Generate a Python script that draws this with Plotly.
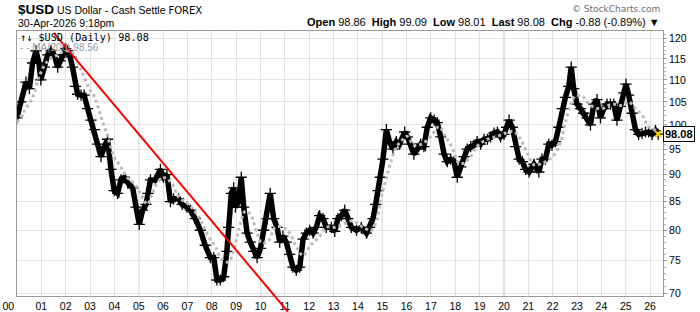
import math
import plotly.graph_objects as go

# ---------------- data ----------------
price_years = [
    2000.00, 2000.03, 2000.16, 2000.37, 2000.51, 2000.64, 2000.78, 2000.90, 2000.98,
    2001.12, 2001.26, 2001.39, 2001.53, 2001.67, 2001.78, 2001.87, 2002.00, 2002.08,
    2002.18, 2002.28, 2002.40, 2002.49, 2002.63, 2002.76, 2002.90, 2003.04, 2003.18,
    2003.31, 2003.45, 2003.59, 2003.72, 2003.86, 2003.99, 2004.13, 2004.27, 2004.41,
    2004.54, 2004.75, 2004.89, 2005.02, 2005.16, 2005.30, 2005.38, 2005.48, 2005.68,
    2005.89, 2006.02, 2006.16, 2006.30, 2006.43, 2006.64, 2006.78, 2006.98, 2007.12,
    2007.32, 2007.53, 2007.73, 2007.94, 2008.08, 2008.21, 2008.35, 2008.49, 2008.62,
    2008.69, 2008.80, 2008.90, 2008.97, 2009.10, 2009.21, 2009.31, 2009.45, 2009.58,
    2009.72, 2009.86, 2010.00, 2010.13, 2010.27, 2010.40, 2010.54, 2010.68, 2010.79,
    2010.92, 2011.06, 2011.20, 2011.33, 2011.47, 2011.61, 2011.75, 2011.88, 2012.02,
    2012.16, 2012.29, 2012.43, 2012.57, 2012.70, 2012.91, 2013.05, 2013.18, 2013.32,
    2013.46, 2013.59, 2013.73, 2013.94, 2014.14, 2014.35, 2014.48, 2014.62, 2014.73,
    2014.83, 2014.92, 2015.03, 2015.17, 2015.30, 2015.44, 2015.58, 2015.71, 2015.92,
    2016.03, 2016.17, 2016.30, 2016.44, 2016.58, 2016.71, 2016.85, 2016.99, 2017.13,
    2017.26, 2017.40, 2017.54, 2017.67, 2017.81, 2017.95, 2018.08, 2018.22, 2018.36,
    2018.49, 2018.63, 2018.77, 2018.90, 2019.04, 2019.18, 2019.32, 2019.45, 2019.59,
    2019.73, 2019.86, 2020.00, 2020.11, 2020.21, 2020.34, 2020.48, 2020.62, 2020.75,
    2020.89, 2021.03, 2021.23, 2021.43, 2021.56, 2021.70, 2021.84, 2021.97, 2022.11,
    2022.25, 2022.39, 2022.52, 2022.66, 2022.76, 2022.86, 2023.00, 2023.14, 2023.27,
    2023.41, 2023.55, 2023.69, 2023.82, 2023.96, 2024.10, 2024.23, 2024.37, 2024.51,
    2024.64, 2024.78, 2024.92, 2025.01, 2025.12, 2025.26, 2025.40, 2025.53, 2025.67,
    2025.81, 2025.94, 2026.08, 2026.22, 2026.33,
]
price_values = [
    101.5, 102, 105, 109.5, 108, 114, 117, 114, 110,
    113, 116, 117, 116, 113, 114.5, 116, 117.5, 117,
    115.5, 113, 108.5, 106.7, 106.5, 106.5, 103.5, 101, 99,
    96, 93.5, 95.5, 97, 91, 87, 86.5, 89, 89.5,
    88.5, 87.5, 84, 81, 83.5, 84.5, 86.5, 89, 89,
    91, 89.5, 90, 85, 85.5, 85.5, 84.5, 84, 83.5,
    82, 80, 77.5, 75.5, 75.5, 72, 72, 72.5, 76.5,
    80.5, 86.5, 87.5, 84, 85, 89.5, 84, 79.5, 78,
    76.5, 75.5, 77, 80, 82, 86.5, 82, 80.5, 78,
    79, 78, 76, 74, 73.5, 74, 78.5, 79.5, 80,
    79.5, 80.5, 82.5, 82, 80.5, 80.5, 79.8, 82, 82.5,
    83.5, 82, 80.5, 80, 80.5, 79.5, 80.5, 82, 84.5,
    87, 89.5, 93, 99, 96.5, 95, 96.5, 96, 98.5,
    97.5, 96, 94, 95, 96, 95.5, 99.5, 101.5, 101,
    100.5, 97.5, 94, 92.5, 93, 92.5, 89.5, 91.5, 93.5,
    95, 95.5, 95.8, 96.5, 96, 97, 97, 97.5, 98.3,
    98.5, 97.5, 98, 99.5, 101, 99.5, 95.5, 93, 92.5,
    91, 90.5, 92, 90.5, 93, 93, 96, 95.8, 96.5,
    99.5, 103.5, 106, 108.5, 113, 108, 104.5, 103.5, 102.5,
    101.5, 100, 104.5, 105.5, 101.5, 103.5, 104.5, 104.5, 104.5,
    101, 104, 107, 109, 106.5, 102.5, 99, 98, 98.2,
    98.5, 98.5, 98, 98.8, 98.08,
]

ma_years = [
    2000.00, 2000.30, 2000.64, 2000.92, 2001.26, 2001.67, 2002.01, 2002.29, 2002.63,
    2002.97, 2003.17, 2003.45, 2003.72, 2003.99, 2004.27, 2004.54, 2004.82, 2005.09,
    2005.36, 2005.54, 2005.82, 2006.09, 2006.37, 2006.64, 2007.05, 2007.46, 2007.87,
    2008.14, 2008.42, 2008.69, 2008.90, 2009.10, 2009.38, 2009.58, 2009.86, 2010.06,
    2010.34, 2010.61, 2010.92, 2011.20, 2011.47, 2011.75, 2012.02, 2012.43, 2012.70,
    2013.05, 2013.39, 2013.80, 2014.21, 2014.55, 2014.76, 2014.96, 2015.17, 2015.37,
    2015.58, 2015.85, 2016.03, 2016.30, 2016.65, 2016.99, 2017.33, 2017.60, 2017.88,
    2018.15, 2018.36, 2018.63, 2018.90, 2019.32, 2019.73, 2020.07, 2020.41, 2020.68,
    2020.96, 2021.23, 2021.56, 2021.84, 2022.11, 2022.32, 2022.52, 2022.73, 2022.93,
    2023.21, 2023.41, 2023.69, 2024.03, 2024.44, 2024.85, 2025.12, 2025.40, 2025.67,
    2025.94, 2026.22, 2026.35,
]
ma_values = [
    100.5, 103, 106, 111, 114.5, 116, 117, 116.5, 112.4,
    108, 106.3, 101.8, 97.6, 93.5, 91.4, 89.4, 88.3, 86.3,
    84.5, 86.3, 88.8, 89.4, 88.3, 85.8, 84.5, 82.3, 78.9,
    77.3, 75.2, 74.8, 76.7, 80, 83.3, 82.8, 79.5, 77.8,
    78.3, 80.5, 80.5, 79.5, 77.3, 75.8, 77.3, 79, 80.5,
    80.5, 81, 81.6, 80.5, 80, 81.6, 85.8, 89.4, 92.7,
    95.4, 97, 97.6, 95.8, 96.1, 97.6, 99.6, 97.6, 95.2,
    92.2, 92.2, 93.5, 95.6, 97, 97.6, 98.3, 98.6, 97,
    94.2, 91.9, 92.2, 92.9, 94.2, 96.4, 100.4, 104.3, 106.3,
    106.3, 105, 103.8, 103.5, 104.5, 104.2, 105, 103.5, 102.1,
    99.6, 98.9, 98.56,
]

trend_years = [2001.51, 2011.13]
trend_values = [121.5, 67.3]

year_ticks = list(range(2000, 2027))
year_labels = ["%02d" % (y % 100) for y in year_ticks]
year_labels[0] = "00" + "\u00a0" * 6
price_ticks = list(range(70, 121, 5))

last_price = 98.08
ma_last = 98.56

# ---------------- layout geometry ----------------
W, H = 700, 312
ML, MR, MT, MB = 17, 37, 31, 16
PW, PH = W - ML - MR, H - MT - MB
X0, X1 = 2000.0, 2026.53
Y0, Y1 = 69.6, 122.0
LY0, LY1 = math.log10(Y0), math.log10(Y1)


def px(xpix):
    return (xpix - ML) / PW


def py(ypix):
    return (H - MB - ypix) / PH


def xdata_to_paper(x):
    return (x - X0) / (X1 - X0)


def ydata_to_paper(v):
    return (math.log10(v) - LY0) / (LY1 - LY0)


fig = go.Figure()

fig.add_trace(go.Scatter(
    x=price_years, y=price_values, mode="lines+markers",
    line=dict(color="black", width=5.5),
    marker=dict(symbol="cross-thin", size=8, line=dict(color="black", width=1.3)),
    hoverinfo="skip", showlegend=False,
))
fig.add_trace(go.Scatter(
    x=ma_years, y=ma_values, mode="lines",
    line=dict(color="#bcbcbc", width=3, dash="dot", shape="spline"),
    hoverinfo="skip", showlegend=False,
))
fig.add_trace(go.Scatter(
    x=[price_years[-1]], y=[price_values[-1]], mode="markers",
    marker=dict(symbol="x-thin", size=6, line=dict(color="#f2d200", width=2)),
    cliponaxis=False, hoverinfo="skip", showlegend=False,
))

shapes = []
for yr in [2005, 2010, 2015, 2020, 2025]:
    shapes.append(dict(type="line", xref="x", yref="paper", x0=yr, x1=yr, y0=0, y1=1,
                       line=dict(color="#c4c4c4", width=1), layer="below"))
shapes.append(dict(
    type="line", xref="paper", yref="paper",
    x0=xdata_to_paper(trend_years[0]), y0=ydata_to_paper(trend_values[0]),
    x1=xdata_to_paper(trend_years[1]), y1=ydata_to_paper(trend_values[1]),
    line=dict(color="#ff0000", width=2), layer="above",
))

ARIAL = "Liberation Sans, Arial, sans-serif"
annotations = [
    dict(text="<b>$USD</b><span style='font-size:10.5px'> US Dollar - Cash Settle </span>"
              "<span style='font-family:DejaVu Sans;font-size:10px'>FOREX</span>",
         x=px(16), y=py(9), xref="paper", yref="paper", xanchor="left", yanchor="middle",
         showarrow=False, font=dict(family=ARIAL, size=13.5, color="black")),
    dict(text="30-Apr-2026 9:18pm", x=px(16), y=py(23.5), xref="paper", yref="paper",
         xanchor="left", yanchor="middle", showarrow=False,
         font=dict(family=ARIAL, size=10.5, color="black")),
    dict(text="\u00a9 StockCharts.com", x=px(662), y=py(9.5), xref="paper", yref="paper",
         xanchor="right", yanchor="middle", showarrow=False,
         font=dict(family="DejaVu Sans", size=9, color="#6e6e6e")),
    dict(text="<b>Open</b> 98.86\u00a0 <b>High</b> 99.09\u00a0 <b>Low</b> 98.01\u00a0 "
              "<b>Last</b> 98.08\u00a0 <b>Chg</b> -0.88 (-0.89%) \u25bc",
         x=px(662), y=py(22.5), xref="paper", yref="paper", xanchor="right", yanchor="middle",
         showarrow=False, font=dict(family=ARIAL, size=11, color="black")),
    dict(text="\u2191\u2193 $USD (Daily) %.2f" % last_price, x=px(18), y=py(37),
         xref="paper", yref="paper", xanchor="left", yanchor="middle", showarrow=False,
         font=dict(family="DejaVu Sans Mono", size=10.2, color="black")),
    dict(text="- - MA(200) %.2f" % ma_last, x=px(18), y=py(47.5),
         xref="paper", yref="paper", xanchor="left", yanchor="middle", showarrow=False,
         font=dict(family=ARIAL, size=10, color="#9a9a9a")),
    dict(text="<b>%.2f</b>" % last_price, x=1, y=math.log10(last_price), xref="paper", yref="y",
         xanchor="left", yanchor="middle", showarrow=False,
         font=dict(family=ARIAL, size=11, color="black"),
         bgcolor="white", bordercolor="black", borderwidth=1, borderpad=1),
]

fig.update_layout(
    width=W, height=H,
    margin=dict(l=ML, r=MR, t=MT, b=MB, pad=0, autoexpand=False),
    paper_bgcolor="white", plot_bgcolor="white",
    shapes=shapes, annotations=annotations,
    showlegend=False,
    xaxis=dict(
        range=[X0, X1], tickmode="array", tickvals=year_ticks, ticktext=year_labels,
        automargin=False,
        showgrid=True, gridcolor="#e2e2e2", gridwidth=1, zeroline=False,
        showline=True, linecolor="#9a9a9a", linewidth=1, mirror=True,
        ticks="", ticklen=0, tickfont=dict(family=ARIAL, size=10.5, color="black"),
    ),
    yaxis=dict(
        type="log", range=[LY0, LY1], side="right", automargin=False,
        tickmode="array", tickvals=price_ticks, ticktext=[str(v) for v in price_ticks],
        showgrid=True, gridcolor="#e2e2e2", gridwidth=1, zeroline=False,
        showline=True, linecolor="#9a9a9a", linewidth=1, mirror=True,
        ticks="outside", ticklen=3, tickcolor="#9a9a9a",
        tickfont=dict(family=ARIAL, size=10.5, color="black"),
        minor=dict(tickvals=list(range(70, 122)), ticks="outside", ticklen=2,
                   tickcolor="#b0b0b0", showgrid=False),
    ),
)

fig.write_html("out.html")
